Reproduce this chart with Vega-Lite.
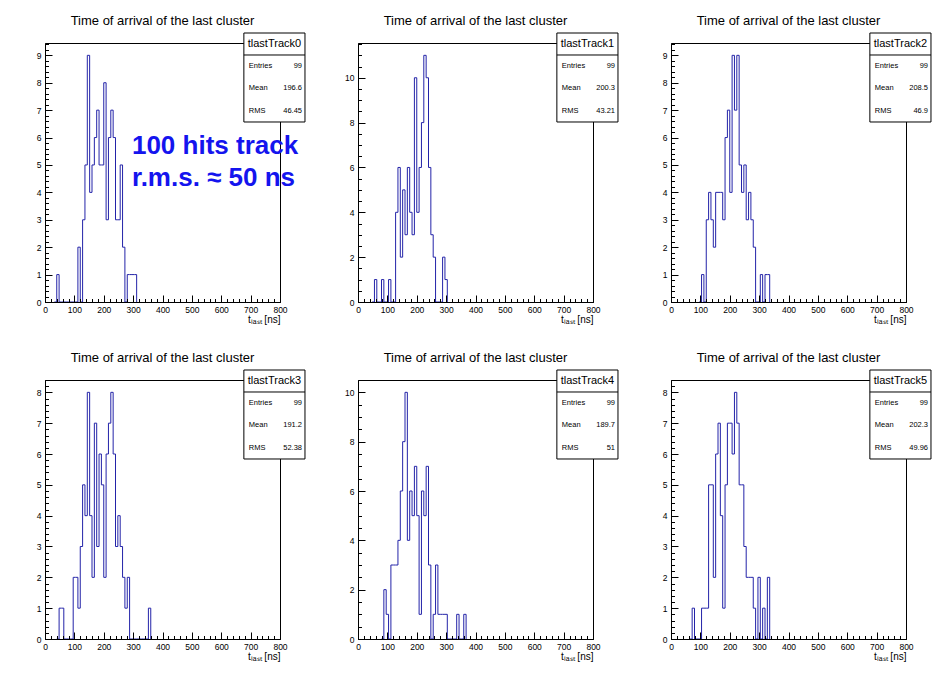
{
"$schema": "https://vega.github.io/schema/vega-lite/v6.json",
"background": "white",
"padding": {"left": 35, "top": 14, "right": 0, "bottom": 0},
"bounds": "flush",
"spacing": 78,
"columns": 3,
"datasets": {
"h0": [{"t":32,"n":0},{"t":40,"n":1},{"t":48,"n":0},{"t":56,"n":0},{"t":64,"n":0},{"t":72,"n":0},{"t":80,"n":0},{"t":88,"n":0},{"t":96,"n":0},{"t":104,"n":0},{"t":112,"n":2},{"t":120,"n":0},{"t":128,"n":3},{"t":136,"n":5},{"t":144,"n":9},{"t":152,"n":4},{"t":160,"n":5},{"t":168,"n":6},{"t":176,"n":7},{"t":184,"n":5},{"t":192,"n":5},{"t":200,"n":8},{"t":208,"n":3},{"t":216,"n":6},{"t":224,"n":7},{"t":232,"n":6},{"t":240,"n":3},{"t":248,"n":3},{"t":256,"n":5},{"t":264,"n":2},{"t":272,"n":0},{"t":280,"n":1},{"t":288,"n":1},{"t":296,"n":1},{"t":304,"n":1},{"t":312,"n":0}],
"h1": [{"t":48,"n":0},{"t":56,"n":1},{"t":64,"n":0},{"t":72,"n":0},{"t":80,"n":1},{"t":88,"n":0},{"t":96,"n":0},{"t":104,"n":1},{"t":112,"n":0},{"t":120,"n":0},{"t":128,"n":4},{"t":136,"n":6},{"t":144,"n":2},{"t":152,"n":5},{"t":160,"n":3},{"t":168,"n":6},{"t":176,"n":4},{"t":184,"n":3},{"t":192,"n":10},{"t":200,"n":4},{"t":208,"n":6},{"t":216,"n":8},{"t":224,"n":11},{"t":232,"n":10},{"t":240,"n":6},{"t":248,"n":3},{"t":256,"n":2},{"t":264,"n":0},{"t":272,"n":0},{"t":280,"n":0},{"t":288,"n":2},{"t":296,"n":1},{"t":304,"n":0}],
"h2": [{"t":96,"n":0},{"t":104,"n":1},{"t":112,"n":0},{"t":120,"n":3},{"t":128,"n":4},{"t":136,"n":3},{"t":144,"n":2},{"t":152,"n":4},{"t":160,"n":4},{"t":168,"n":4},{"t":176,"n":3},{"t":184,"n":6},{"t":192,"n":7},{"t":200,"n":4},{"t":208,"n":9},{"t":216,"n":7},{"t":224,"n":9},{"t":232,"n":5},{"t":240,"n":4},{"t":248,"n":5},{"t":256,"n":3},{"t":264,"n":4},{"t":272,"n":3},{"t":280,"n":2},{"t":288,"n":0},{"t":296,"n":0},{"t":304,"n":1},{"t":312,"n":0},{"t":320,"n":1},{"t":328,"n":1},{"t":336,"n":0}],
"h3": [{"t":40,"n":0},{"t":48,"n":1},{"t":56,"n":1},{"t":64,"n":0},{"t":72,"n":0},{"t":80,"n":0},{"t":88,"n":0},{"t":96,"n":2},{"t":104,"n":2},{"t":112,"n":1},{"t":120,"n":3},{"t":128,"n":5},{"t":136,"n":4},{"t":144,"n":8},{"t":152,"n":4},{"t":160,"n":2},{"t":168,"n":7},{"t":176,"n":3},{"t":184,"n":6},{"t":192,"n":5},{"t":200,"n":2},{"t":208,"n":6},{"t":216,"n":7},{"t":224,"n":8},{"t":232,"n":6},{"t":240,"n":3},{"t":248,"n":4},{"t":256,"n":3},{"t":264,"n":2},{"t":272,"n":1},{"t":280,"n":2},{"t":288,"n":0},{"t":296,"n":0},{"t":304,"n":0},{"t":312,"n":0},{"t":320,"n":0},{"t":328,"n":0},{"t":336,"n":0},{"t":344,"n":0},{"t":352,"n":1},{"t":360,"n":0}],
"h4": [{"t":80,"n":0},{"t":88,"n":2},{"t":96,"n":1},{"t":104,"n":0},{"t":112,"n":3},{"t":120,"n":3},{"t":128,"n":3},{"t":136,"n":4},{"t":144,"n":6},{"t":152,"n":8},{"t":160,"n":10},{"t":168,"n":4},{"t":176,"n":6},{"t":184,"n":5},{"t":192,"n":7},{"t":200,"n":5},{"t":208,"n":1},{"t":216,"n":6},{"t":224,"n":5},{"t":232,"n":7},{"t":240,"n":3},{"t":248,"n":0},{"t":256,"n":1},{"t":264,"n":3},{"t":272,"n":1},{"t":280,"n":1},{"t":288,"n":1},{"t":296,"n":1},{"t":304,"n":0},{"t":312,"n":0},{"t":320,"n":0},{"t":328,"n":0},{"t":336,"n":1},{"t":344,"n":0},{"t":352,"n":0},{"t":360,"n":1},{"t":368,"n":0}],
"h5": [{"t":64,"n":0},{"t":72,"n":1},{"t":80,"n":0},{"t":88,"n":0},{"t":96,"n":0},{"t":104,"n":1},{"t":112,"n":1},{"t":120,"n":1},{"t":128,"n":5},{"t":136,"n":5},{"t":144,"n":2},{"t":152,"n":6},{"t":160,"n":7},{"t":168,"n":4},{"t":176,"n":1},{"t":184,"n":5},{"t":192,"n":7},{"t":200,"n":7},{"t":208,"n":6},{"t":216,"n":8},{"t":224,"n":7},{"t":232,"n":5},{"t":240,"n":5},{"t":248,"n":3},{"t":256,"n":2},{"t":264,"n":2},{"t":272,"n":2},{"t":280,"n":1},{"t":288,"n":0},{"t":296,"n":2},{"t":304,"n":0},{"t":312,"n":1},{"t":320,"n":0},{"t":328,"n":2},{"t":336,"n":0}],
"s0": [{"name":"tlastTrack0","Entries":"99","Mean":"196.6","RMS":"46.45"}],
"s1": [{"name":"tlastTrack1","Entries":"99","Mean":"200.3","RMS":"43.21"}],
"s2": [{"name":"tlastTrack2","Entries":"99","Mean":"208.5","RMS":"46.9"}],
"s3": [{"name":"tlastTrack3","Entries":"99","Mean":"191.2","RMS":"52.38"}],
"s4": [{"name":"tlastTrack4","Entries":"99","Mean":"189.7","RMS":"51"}],
"s5": [{"name":"tlastTrack5","Entries":"99","Mean":"202.3","RMS":"49.96"}]
},
"concat": [
{"width": 235, "height": 259,
 "title": {"text": "Time of arrival of the last cluster", "frame": "group", "anchor": "middle", "offset": 5},
 "layer": [
  {"data": {"name": "h0"}, "mark": {"type": "point", "opacity": 0},
   "encoding": {
    "x": {"field": "t", "type": "quantitative", "scale": {"domain": [0, 800], "nice": false}, "axis": {"orient": "bottom", "tickCount": 40, "tickSize": -3.5, "labels": false, "domain": false, "title": null, "zindex": 1}},
    "y": {"field": "n", "type": "quantitative", "scale": {"domain": [0, 9.45], "nice": false}, "axis": {"orient": "left", "tickCount": 47, "tickSize": -3.5, "labels": false, "domain": false, "title": null, "zindex": 1}}}},
  {"data": {"name": "h0"}, "mark": {"type": "line", "interpolate": "step-after", "color": "#2323a8", "strokeWidth": 1},
   "encoding": {
    "x": {"field": "t", "type": "quantitative", "scale": {"domain": [0, 800], "nice": false}, "axis": {"orient": "bottom", "values": [0,100,200,300,400,500,600,700,800], "tickSize": -7, "labelPadding": 10, "title": "tₗₐₛₜ [ns]", "titleAnchor": "end", "titleFontSize": 10, "titlePadding": 1, "zindex": 1}},
    "y": {"field": "n", "type": "quantitative", "scale": {"domain": [0, 9.45], "nice": false}, "axis": {"orient": "left", "values": [0,1,2,3,4,5,6,7,8,9], "tickSize": -7, "labelPadding": 11, "title": null, "zindex": 1}}}},
  {"data": {"name": "s0"},
   "layer": [
    {"mark": {"type": "rect", "fill": "white", "stroke": "black", "strokeWidth": 1, "clip": false},
     "encoding": {"x": {"datum": 677, "type": "quantitative", "axis": null}, "x2": {"datum": 885}, "y": {"datum": 0.695, "type": "quantitative", "scale": {"domain": [0, 1], "nice": false}, "axis": null}, "y2": {"datum": 1.0386}}},
    {"mark": {"type": "rule", "stroke": "black", "strokeWidth": 1, "clip": false},
     "encoding": {"x": {"datum": 677, "type": "quantitative", "axis": null}, "x2": {"datum": 885}, "y": {"datum": 0.9537, "type": "quantitative", "axis": null}}},
    {"mark": {"type": "text", "align": "center", "baseline": "middle", "fontSize": 11, "clip": false},
     "encoding": {"x": {"datum": 781, "type": "quantitative", "axis": null}, "y": {"datum": 0.9961, "type": "quantitative", "axis": null}, "text": {"field": "name"}}},
    {"mark": {"type": "text", "align": "left", "baseline": "middle", "fontSize": 7.5, "text": "Entries", "clip": false},
     "encoding": {"x": {"datum": 694, "type": "quantitative", "axis": null}, "y": {"datum": 0.9112, "type": "quantitative", "axis": null}}},
    {"mark": {"type": "text", "align": "left", "baseline": "middle", "fontSize": 7.5, "text": "Mean", "clip": false},
     "encoding": {"x": {"datum": 694, "type": "quantitative", "axis": null}, "y": {"datum": 0.8263, "type": "quantitative", "axis": null}}},
    {"mark": {"type": "text", "align": "left", "baseline": "middle", "fontSize": 7.5, "text": "RMS", "clip": false},
     "encoding": {"x": {"datum": 694, "type": "quantitative", "axis": null}, "y": {"datum": 0.7375, "type": "quantitative", "axis": null}}},
    {"mark": {"type": "text", "align": "right", "baseline": "middle", "fontSize": 7.5, "clip": false},
     "encoding": {"x": {"datum": 875, "type": "quantitative", "axis": null}, "y": {"datum": 0.9112, "type": "quantitative", "axis": null}, "text": {"field": "Entries"}}},
    {"mark": {"type": "text", "align": "right", "baseline": "middle", "fontSize": 7.5, "clip": false},
     "encoding": {"x": {"datum": 875, "type": "quantitative", "axis": null}, "y": {"datum": 0.8263, "type": "quantitative", "axis": null}, "text": {"field": "Mean"}}},
    {"mark": {"type": "text", "align": "right", "baseline": "middle", "fontSize": 7.5, "clip": false},
     "encoding": {"x": {"datum": 875, "type": "quantitative", "axis": null}, "y": {"datum": 0.7375, "type": "quantitative", "axis": null}, "text": {"field": "RMS"}}},
    {"mark": {"type": "text", "align": "left", "baseline": "middle", "fontSize": 26, "fontWeight": "bold", "color": "#1414ee", "lineHeight": 32, "text": ["100 hits track", "r.m.s. ≈ 50 ns"], "clip": false},
     "encoding": {"x": {"datum": 296, "type": "quantitative", "axis": null}, "y": {"datum": 0.602, "type": "quantitative", "axis": null}}}
   ]}
 ],
 "resolve": {"scale": {"y": "independent"}, "axis": {"x": "independent", "y": "independent"}}
},
{"width": 235, "height": 259,
 "title": {"text": "Time of arrival of the last cluster", "frame": "group", "anchor": "middle", "offset": 5},
 "layer": [
  {"data": {"name": "h1"}, "mark": {"type": "point", "opacity": 0},
   "encoding": {
    "x": {"field": "t", "type": "quantitative", "scale": {"domain": [0, 800], "nice": false}, "axis": {"orient": "bottom", "tickCount": 40, "tickSize": -3.5, "labels": false, "domain": false, "title": null, "zindex": 1}},
    "y": {"field": "n", "type": "quantitative", "scale": {"domain": [0, 11.55], "nice": false}, "axis": {"orient": "left", "tickCount": 23, "tickSize": -3.5, "labels": false, "domain": false, "title": null, "zindex": 1}}}},
  {"data": {"name": "h1"}, "mark": {"type": "line", "interpolate": "step-after", "color": "#2323a8", "strokeWidth": 1},
   "encoding": {
    "x": {"field": "t", "type": "quantitative", "scale": {"domain": [0, 800], "nice": false}, "axis": {"orient": "bottom", "values": [0,100,200,300,400,500,600,700,800], "tickSize": -7, "labelPadding": 10, "title": "tₗₐₛₜ [ns]", "titleAnchor": "end", "titleFontSize": 10, "titlePadding": 1, "zindex": 1}},
    "y": {"field": "n", "type": "quantitative", "scale": {"domain": [0, 11.55], "nice": false}, "axis": {"orient": "left", "values": [0,2,4,6,8,10], "tickSize": -7, "labelPadding": 11, "title": null, "zindex": 1}}}},
  {"data": {"name": "s1"},
   "layer": [
    {"mark": {"type": "rect", "fill": "white", "stroke": "black", "strokeWidth": 1, "clip": false},
     "encoding": {"x": {"datum": 677, "type": "quantitative", "axis": null}, "x2": {"datum": 885}, "y": {"datum": 0.695, "type": "quantitative", "scale": {"domain": [0, 1], "nice": false}, "axis": null}, "y2": {"datum": 1.0386}}},
    {"mark": {"type": "rule", "stroke": "black", "strokeWidth": 1, "clip": false},
     "encoding": {"x": {"datum": 677, "type": "quantitative", "axis": null}, "x2": {"datum": 885}, "y": {"datum": 0.9537, "type": "quantitative", "axis": null}}},
    {"mark": {"type": "text", "align": "center", "baseline": "middle", "fontSize": 11, "clip": false},
     "encoding": {"x": {"datum": 781, "type": "quantitative", "axis": null}, "y": {"datum": 0.9961, "type": "quantitative", "axis": null}, "text": {"field": "name"}}},
    {"mark": {"type": "text", "align": "left", "baseline": "middle", "fontSize": 7.5, "text": "Entries", "clip": false},
     "encoding": {"x": {"datum": 694, "type": "quantitative", "axis": null}, "y": {"datum": 0.9112, "type": "quantitative", "axis": null}}},
    {"mark": {"type": "text", "align": "left", "baseline": "middle", "fontSize": 7.5, "text": "Mean", "clip": false},
     "encoding": {"x": {"datum": 694, "type": "quantitative", "axis": null}, "y": {"datum": 0.8263, "type": "quantitative", "axis": null}}},
    {"mark": {"type": "text", "align": "left", "baseline": "middle", "fontSize": 7.5, "text": "RMS", "clip": false},
     "encoding": {"x": {"datum": 694, "type": "quantitative", "axis": null}, "y": {"datum": 0.7375, "type": "quantitative", "axis": null}}},
    {"mark": {"type": "text", "align": "right", "baseline": "middle", "fontSize": 7.5, "clip": false},
     "encoding": {"x": {"datum": 875, "type": "quantitative", "axis": null}, "y": {"datum": 0.9112, "type": "quantitative", "axis": null}, "text": {"field": "Entries"}}},
    {"mark": {"type": "text", "align": "right", "baseline": "middle", "fontSize": 7.5, "clip": false},
     "encoding": {"x": {"datum": 875, "type": "quantitative", "axis": null}, "y": {"datum": 0.8263, "type": "quantitative", "axis": null}, "text": {"field": "Mean"}}},
    {"mark": {"type": "text", "align": "right", "baseline": "middle", "fontSize": 7.5, "clip": false},
     "encoding": {"x": {"datum": 875, "type": "quantitative", "axis": null}, "y": {"datum": 0.7375, "type": "quantitative", "axis": null}, "text": {"field": "RMS"}}}
   ]}
 ],
 "resolve": {"scale": {"y": "independent"}, "axis": {"x": "independent", "y": "independent"}}
},
{"width": 235, "height": 259,
 "title": {"text": "Time of arrival of the last cluster", "frame": "group", "anchor": "middle", "offset": 5},
 "layer": [
  {"data": {"name": "h2"}, "mark": {"type": "point", "opacity": 0},
   "encoding": {
    "x": {"field": "t", "type": "quantitative", "scale": {"domain": [0, 800], "nice": false}, "axis": {"orient": "bottom", "tickCount": 40, "tickSize": -3.5, "labels": false, "domain": false, "title": null, "zindex": 1}},
    "y": {"field": "n", "type": "quantitative", "scale": {"domain": [0, 9.45], "nice": false}, "axis": {"orient": "left", "tickCount": 47, "tickSize": -3.5, "labels": false, "domain": false, "title": null, "zindex": 1}}}},
  {"data": {"name": "h2"}, "mark": {"type": "line", "interpolate": "step-after", "color": "#2323a8", "strokeWidth": 1},
   "encoding": {
    "x": {"field": "t", "type": "quantitative", "scale": {"domain": [0, 800], "nice": false}, "axis": {"orient": "bottom", "values": [0,100,200,300,400,500,600,700,800], "tickSize": -7, "labelPadding": 10, "title": "tₗₐₛₜ [ns]", "titleAnchor": "end", "titleFontSize": 10, "titlePadding": 1, "zindex": 1}},
    "y": {"field": "n", "type": "quantitative", "scale": {"domain": [0, 9.45], "nice": false}, "axis": {"orient": "left", "values": [0,1,2,3,4,5,6,7,8,9], "tickSize": -7, "labelPadding": 11, "title": null, "zindex": 1}}}},
  {"data": {"name": "s2"},
   "layer": [
    {"mark": {"type": "rect", "fill": "white", "stroke": "black", "strokeWidth": 1, "clip": false},
     "encoding": {"x": {"datum": 677, "type": "quantitative", "axis": null}, "x2": {"datum": 885}, "y": {"datum": 0.695, "type": "quantitative", "scale": {"domain": [0, 1], "nice": false}, "axis": null}, "y2": {"datum": 1.0386}}},
    {"mark": {"type": "rule", "stroke": "black", "strokeWidth": 1, "clip": false},
     "encoding": {"x": {"datum": 677, "type": "quantitative", "axis": null}, "x2": {"datum": 885}, "y": {"datum": 0.9537, "type": "quantitative", "axis": null}}},
    {"mark": {"type": "text", "align": "center", "baseline": "middle", "fontSize": 11, "clip": false},
     "encoding": {"x": {"datum": 781, "type": "quantitative", "axis": null}, "y": {"datum": 0.9961, "type": "quantitative", "axis": null}, "text": {"field": "name"}}},
    {"mark": {"type": "text", "align": "left", "baseline": "middle", "fontSize": 7.5, "text": "Entries", "clip": false},
     "encoding": {"x": {"datum": 694, "type": "quantitative", "axis": null}, "y": {"datum": 0.9112, "type": "quantitative", "axis": null}}},
    {"mark": {"type": "text", "align": "left", "baseline": "middle", "fontSize": 7.5, "text": "Mean", "clip": false},
     "encoding": {"x": {"datum": 694, "type": "quantitative", "axis": null}, "y": {"datum": 0.8263, "type": "quantitative", "axis": null}}},
    {"mark": {"type": "text", "align": "left", "baseline": "middle", "fontSize": 7.5, "text": "RMS", "clip": false},
     "encoding": {"x": {"datum": 694, "type": "quantitative", "axis": null}, "y": {"datum": 0.7375, "type": "quantitative", "axis": null}}},
    {"mark": {"type": "text", "align": "right", "baseline": "middle", "fontSize": 7.5, "clip": false},
     "encoding": {"x": {"datum": 875, "type": "quantitative", "axis": null}, "y": {"datum": 0.9112, "type": "quantitative", "axis": null}, "text": {"field": "Entries"}}},
    {"mark": {"type": "text", "align": "right", "baseline": "middle", "fontSize": 7.5, "clip": false},
     "encoding": {"x": {"datum": 875, "type": "quantitative", "axis": null}, "y": {"datum": 0.8263, "type": "quantitative", "axis": null}, "text": {"field": "Mean"}}},
    {"mark": {"type": "text", "align": "right", "baseline": "middle", "fontSize": 7.5, "clip": false},
     "encoding": {"x": {"datum": 875, "type": "quantitative", "axis": null}, "y": {"datum": 0.7375, "type": "quantitative", "axis": null}, "text": {"field": "RMS"}}}
   ]}
 ],
 "resolve": {"scale": {"y": "independent"}, "axis": {"x": "independent", "y": "independent"}}
},
{"width": 235, "height": 259,
 "title": {"text": "Time of arrival of the last cluster", "frame": "group", "anchor": "middle", "offset": 5},
 "layer": [
  {"data": {"name": "h3"}, "mark": {"type": "point", "opacity": 0},
   "encoding": {
    "x": {"field": "t", "type": "quantitative", "scale": {"domain": [0, 800], "nice": false}, "axis": {"orient": "bottom", "tickCount": 40, "tickSize": -3.5, "labels": false, "domain": false, "title": null, "zindex": 1}},
    "y": {"field": "n", "type": "quantitative", "scale": {"domain": [0, 8.4], "nice": false}, "axis": {"orient": "left", "tickCount": 42, "tickSize": -3.5, "labels": false, "domain": false, "title": null, "zindex": 1}}}},
  {"data": {"name": "h3"}, "mark": {"type": "line", "interpolate": "step-after", "color": "#2323a8", "strokeWidth": 1},
   "encoding": {
    "x": {"field": "t", "type": "quantitative", "scale": {"domain": [0, 800], "nice": false}, "axis": {"orient": "bottom", "values": [0,100,200,300,400,500,600,700,800], "tickSize": -7, "labelPadding": 10, "title": "tₗₐₛₜ [ns]", "titleAnchor": "end", "titleFontSize": 10, "titlePadding": 1, "zindex": 1}},
    "y": {"field": "n", "type": "quantitative", "scale": {"domain": [0, 8.4], "nice": false}, "axis": {"orient": "left", "values": [0,1,2,3,4,5,6,7,8], "tickSize": -7, "labelPadding": 11, "title": null, "zindex": 1}}}},
  {"data": {"name": "s3"},
   "layer": [
    {"mark": {"type": "rect", "fill": "white", "stroke": "black", "strokeWidth": 1, "clip": false},
     "encoding": {"x": {"datum": 677, "type": "quantitative", "axis": null}, "x2": {"datum": 885}, "y": {"datum": 0.695, "type": "quantitative", "scale": {"domain": [0, 1], "nice": false}, "axis": null}, "y2": {"datum": 1.0386}}},
    {"mark": {"type": "rule", "stroke": "black", "strokeWidth": 1, "clip": false},
     "encoding": {"x": {"datum": 677, "type": "quantitative", "axis": null}, "x2": {"datum": 885}, "y": {"datum": 0.9537, "type": "quantitative", "axis": null}}},
    {"mark": {"type": "text", "align": "center", "baseline": "middle", "fontSize": 11, "clip": false},
     "encoding": {"x": {"datum": 781, "type": "quantitative", "axis": null}, "y": {"datum": 0.9961, "type": "quantitative", "axis": null}, "text": {"field": "name"}}},
    {"mark": {"type": "text", "align": "left", "baseline": "middle", "fontSize": 7.5, "text": "Entries", "clip": false},
     "encoding": {"x": {"datum": 694, "type": "quantitative", "axis": null}, "y": {"datum": 0.9112, "type": "quantitative", "axis": null}}},
    {"mark": {"type": "text", "align": "left", "baseline": "middle", "fontSize": 7.5, "text": "Mean", "clip": false},
     "encoding": {"x": {"datum": 694, "type": "quantitative", "axis": null}, "y": {"datum": 0.8263, "type": "quantitative", "axis": null}}},
    {"mark": {"type": "text", "align": "left", "baseline": "middle", "fontSize": 7.5, "text": "RMS", "clip": false},
     "encoding": {"x": {"datum": 694, "type": "quantitative", "axis": null}, "y": {"datum": 0.7375, "type": "quantitative", "axis": null}}},
    {"mark": {"type": "text", "align": "right", "baseline": "middle", "fontSize": 7.5, "clip": false},
     "encoding": {"x": {"datum": 875, "type": "quantitative", "axis": null}, "y": {"datum": 0.9112, "type": "quantitative", "axis": null}, "text": {"field": "Entries"}}},
    {"mark": {"type": "text", "align": "right", "baseline": "middle", "fontSize": 7.5, "clip": false},
     "encoding": {"x": {"datum": 875, "type": "quantitative", "axis": null}, "y": {"datum": 0.8263, "type": "quantitative", "axis": null}, "text": {"field": "Mean"}}},
    {"mark": {"type": "text", "align": "right", "baseline": "middle", "fontSize": 7.5, "clip": false},
     "encoding": {"x": {"datum": 875, "type": "quantitative", "axis": null}, "y": {"datum": 0.7375, "type": "quantitative", "axis": null}, "text": {"field": "RMS"}}}
   ]}
 ],
 "resolve": {"scale": {"y": "independent"}, "axis": {"x": "independent", "y": "independent"}}
},
{"width": 235, "height": 259,
 "title": {"text": "Time of arrival of the last cluster", "frame": "group", "anchor": "middle", "offset": 5},
 "layer": [
  {"data": {"name": "h4"}, "mark": {"type": "point", "opacity": 0},
   "encoding": {
    "x": {"field": "t", "type": "quantitative", "scale": {"domain": [0, 800], "nice": false}, "axis": {"orient": "bottom", "tickCount": 40, "tickSize": -3.5, "labels": false, "domain": false, "title": null, "zindex": 1}},
    "y": {"field": "n", "type": "quantitative", "scale": {"domain": [0, 10.5], "nice": false}, "axis": {"orient": "left", "tickCount": 21, "tickSize": -3.5, "labels": false, "domain": false, "title": null, "zindex": 1}}}},
  {"data": {"name": "h4"}, "mark": {"type": "line", "interpolate": "step-after", "color": "#2323a8", "strokeWidth": 1},
   "encoding": {
    "x": {"field": "t", "type": "quantitative", "scale": {"domain": [0, 800], "nice": false}, "axis": {"orient": "bottom", "values": [0,100,200,300,400,500,600,700,800], "tickSize": -7, "labelPadding": 10, "title": "tₗₐₛₜ [ns]", "titleAnchor": "end", "titleFontSize": 10, "titlePadding": 1, "zindex": 1}},
    "y": {"field": "n", "type": "quantitative", "scale": {"domain": [0, 10.5], "nice": false}, "axis": {"orient": "left", "values": [0,2,4,6,8,10], "tickSize": -7, "labelPadding": 11, "title": null, "zindex": 1}}}},
  {"data": {"name": "s4"},
   "layer": [
    {"mark": {"type": "rect", "fill": "white", "stroke": "black", "strokeWidth": 1, "clip": false},
     "encoding": {"x": {"datum": 677, "type": "quantitative", "axis": null}, "x2": {"datum": 885}, "y": {"datum": 0.695, "type": "quantitative", "scale": {"domain": [0, 1], "nice": false}, "axis": null}, "y2": {"datum": 1.0386}}},
    {"mark": {"type": "rule", "stroke": "black", "strokeWidth": 1, "clip": false},
     "encoding": {"x": {"datum": 677, "type": "quantitative", "axis": null}, "x2": {"datum": 885}, "y": {"datum": 0.9537, "type": "quantitative", "axis": null}}},
    {"mark": {"type": "text", "align": "center", "baseline": "middle", "fontSize": 11, "clip": false},
     "encoding": {"x": {"datum": 781, "type": "quantitative", "axis": null}, "y": {"datum": 0.9961, "type": "quantitative", "axis": null}, "text": {"field": "name"}}},
    {"mark": {"type": "text", "align": "left", "baseline": "middle", "fontSize": 7.5, "text": "Entries", "clip": false},
     "encoding": {"x": {"datum": 694, "type": "quantitative", "axis": null}, "y": {"datum": 0.9112, "type": "quantitative", "axis": null}}},
    {"mark": {"type": "text", "align": "left", "baseline": "middle", "fontSize": 7.5, "text": "Mean", "clip": false},
     "encoding": {"x": {"datum": 694, "type": "quantitative", "axis": null}, "y": {"datum": 0.8263, "type": "quantitative", "axis": null}}},
    {"mark": {"type": "text", "align": "left", "baseline": "middle", "fontSize": 7.5, "text": "RMS", "clip": false},
     "encoding": {"x": {"datum": 694, "type": "quantitative", "axis": null}, "y": {"datum": 0.7375, "type": "quantitative", "axis": null}}},
    {"mark": {"type": "text", "align": "right", "baseline": "middle", "fontSize": 7.5, "clip": false},
     "encoding": {"x": {"datum": 875, "type": "quantitative", "axis": null}, "y": {"datum": 0.9112, "type": "quantitative", "axis": null}, "text": {"field": "Entries"}}},
    {"mark": {"type": "text", "align": "right", "baseline": "middle", "fontSize": 7.5, "clip": false},
     "encoding": {"x": {"datum": 875, "type": "quantitative", "axis": null}, "y": {"datum": 0.8263, "type": "quantitative", "axis": null}, "text": {"field": "Mean"}}},
    {"mark": {"type": "text", "align": "right", "baseline": "middle", "fontSize": 7.5, "clip": false},
     "encoding": {"x": {"datum": 875, "type": "quantitative", "axis": null}, "y": {"datum": 0.7375, "type": "quantitative", "axis": null}, "text": {"field": "RMS"}}}
   ]}
 ],
 "resolve": {"scale": {"y": "independent"}, "axis": {"x": "independent", "y": "independent"}}
},
{"width": 235, "height": 259,
 "title": {"text": "Time of arrival of the last cluster", "frame": "group", "anchor": "middle", "offset": 5},
 "layer": [
  {"data": {"name": "h5"}, "mark": {"type": "point", "opacity": 0},
   "encoding": {
    "x": {"field": "t", "type": "quantitative", "scale": {"domain": [0, 800], "nice": false}, "axis": {"orient": "bottom", "tickCount": 40, "tickSize": -3.5, "labels": false, "domain": false, "title": null, "zindex": 1}},
    "y": {"field": "n", "type": "quantitative", "scale": {"domain": [0, 8.4], "nice": false}, "axis": {"orient": "left", "tickCount": 42, "tickSize": -3.5, "labels": false, "domain": false, "title": null, "zindex": 1}}}},
  {"data": {"name": "h5"}, "mark": {"type": "line", "interpolate": "step-after", "color": "#2323a8", "strokeWidth": 1},
   "encoding": {
    "x": {"field": "t", "type": "quantitative", "scale": {"domain": [0, 800], "nice": false}, "axis": {"orient": "bottom", "values": [0,100,200,300,400,500,600,700,800], "tickSize": -7, "labelPadding": 10, "title": "tₗₐₛₜ [ns]", "titleAnchor": "end", "titleFontSize": 10, "titlePadding": 1, "zindex": 1}},
    "y": {"field": "n", "type": "quantitative", "scale": {"domain": [0, 8.4], "nice": false}, "axis": {"orient": "left", "values": [0,1,2,3,4,5,6,7,8], "tickSize": -7, "labelPadding": 11, "title": null, "zindex": 1}}}},
  {"data": {"name": "s5"},
   "layer": [
    {"mark": {"type": "rect", "fill": "white", "stroke": "black", "strokeWidth": 1, "clip": false},
     "encoding": {"x": {"datum": 677, "type": "quantitative", "axis": null}, "x2": {"datum": 885}, "y": {"datum": 0.695, "type": "quantitative", "scale": {"domain": [0, 1], "nice": false}, "axis": null}, "y2": {"datum": 1.0386}}},
    {"mark": {"type": "rule", "stroke": "black", "strokeWidth": 1, "clip": false},
     "encoding": {"x": {"datum": 677, "type": "quantitative", "axis": null}, "x2": {"datum": 885}, "y": {"datum": 0.9537, "type": "quantitative", "axis": null}}},
    {"mark": {"type": "text", "align": "center", "baseline": "middle", "fontSize": 11, "clip": false},
     "encoding": {"x": {"datum": 781, "type": "quantitative", "axis": null}, "y": {"datum": 0.9961, "type": "quantitative", "axis": null}, "text": {"field": "name"}}},
    {"mark": {"type": "text", "align": "left", "baseline": "middle", "fontSize": 7.5, "text": "Entries", "clip": false},
     "encoding": {"x": {"datum": 694, "type": "quantitative", "axis": null}, "y": {"datum": 0.9112, "type": "quantitative", "axis": null}}},
    {"mark": {"type": "text", "align": "left", "baseline": "middle", "fontSize": 7.5, "text": "Mean", "clip": false},
     "encoding": {"x": {"datum": 694, "type": "quantitative", "axis": null}, "y": {"datum": 0.8263, "type": "quantitative", "axis": null}}},
    {"mark": {"type": "text", "align": "left", "baseline": "middle", "fontSize": 7.5, "text": "RMS", "clip": false},
     "encoding": {"x": {"datum": 694, "type": "quantitative", "axis": null}, "y": {"datum": 0.7375, "type": "quantitative", "axis": null}}},
    {"mark": {"type": "text", "align": "right", "baseline": "middle", "fontSize": 7.5, "clip": false},
     "encoding": {"x": {"datum": 875, "type": "quantitative", "axis": null}, "y": {"datum": 0.9112, "type": "quantitative", "axis": null}, "text": {"field": "Entries"}}},
    {"mark": {"type": "text", "align": "right", "baseline": "middle", "fontSize": 7.5, "clip": false},
     "encoding": {"x": {"datum": 875, "type": "quantitative", "axis": null}, "y": {"datum": 0.8263, "type": "quantitative", "axis": null}, "text": {"field": "Mean"}}},
    {"mark": {"type": "text", "align": "right", "baseline": "middle", "fontSize": 7.5, "clip": false},
     "encoding": {"x": {"datum": 875, "type": "quantitative", "axis": null}, "y": {"datum": 0.7375, "type": "quantitative", "axis": null}, "text": {"field": "RMS"}}}
   ]}
 ],
 "resolve": {"scale": {"y": "independent"}, "axis": {"x": "independent", "y": "independent"}}
}
],
"config": {
 "view": {"stroke": "black", "strokeWidth": 1},
 "axis": {"grid": false, "labelFont": "Liberation Sans", "labelFontSize": 8.5, "labelColor": "#000000", "tickColor": "#000000", "tickWidth": 1, "domainColor": "#000000", "domainWidth": 1, "titleFont": "Liberation Sans", "titleFontWeight": "normal", "titleColor": "#000000", "labelOverlap": false, "labelFlush": false},
 "text": {"font": "Liberation Sans", "color": "#000000"},
 "title": {"font": "Liberation Sans", "fontWeight": "normal", "fontSize": 13, "color": "#000000"}
}
}
